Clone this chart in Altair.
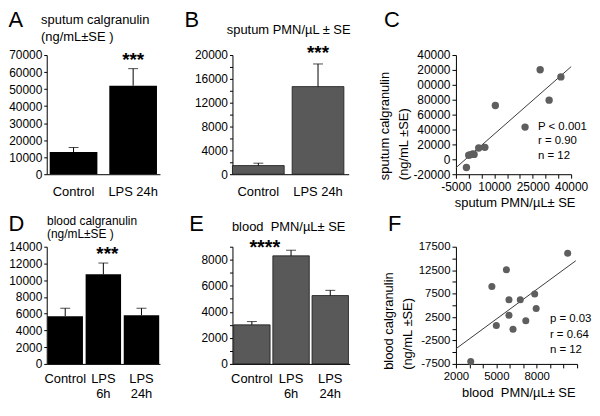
import altair as alt
import pandas as pd

FONT = "Liberation Sans"

# ---------------- data ----------------
a_cats = ["Control", "LPS 24h"]
a_vals = [13000, 52000]
a_errs = [2700, 10000]
a_sig = ["", "***"]

b_cats = ["Control", "LPS 24h"]
b_vals = [1450, 14700]
b_errs = [400, 3800]
b_sig = ["", "***"]

c_pmn = [-900, 0, 800, 1600, 2100, 3900, 6300, 10400, 22000, 27900, 31400, 36000]
c_cal = [-11000, 5500, 6300, 7300, 6600, 15200, 16100, 72300, 43300, 120300, 79400, 110600]
c_stats = ["P < 0.001", "r = 0.90", "n = 12"]

d_cats = ["Control", "LPS 6h", "LPS 24h"]
d_vals = [5700, 10700, 5800]
d_errs = [950, 1350, 850]
d_sig = ["", "***", ""]

e_cats = ["Control", "LPS 6h", "LPS 24h"]
e_vals = [3000, 8300, 5250]
e_errs = [250, 430, 400]
e_sig = ["", "", ""]

f_pmn = [3100, 4670, 5000, 5750, 5940, 5940, 6240, 6780, 7190, 7850, 7960, 10300]
f_cal = [-7000, 9000, 700, 12600, 6200, 2900, -100, 6200, 1700, 7400, 4300, 16100]
f_stats = ["p = 0.03", "r = 0.64", "n = 12"]


def txt(s, x, y, size=13, align="left", baseline="alphabetic", angle=0, weight="normal"):
    return alt.Chart(pd.DataFrame({"t": [s]})).mark_text(
        align=align, baseline=baseline, fontSize=size, angle=angle,
        fontWeight=weight, font=FONT, color="black"
    ).encode(x=alt.value(x), y=alt.value(y), text="t:N")


def bar_panel(cats, vals, errs, sig, width, height, ymax, ystep, ylabel_expr,
              fill, stroke, pi, po, align, multiline, star_dy, star_dx):
    df = pd.DataFrame({"cat": cats, "val": vals, "err": errs, "sig": sig})
    xax = dict(title=None, labelAngle=0, ticks=False, tickSize=0, labelFontSize=13)
    if multiline:
        xax.update(labelExpr="split(datum.label, ' ')", labelLineHeight=15, labelPadding=9)
    else:
        xax.update(labelPadding=11)
    x = alt.X("cat:N", sort=cats,
              scale=alt.Scale(paddingInner=pi, paddingOuter=po, align=align),
              axis=alt.Axis(**xax))
    yax = dict(values=list(range(0, ymax + 1, ystep)), format="d", title=None,
               tickSize=3, labelPadding=2, labelFontSize=12, labelOverlap=False)
    if ylabel_expr:
        yax["labelExpr"] = ylabel_expr
    yscale = alt.Scale(domain=[0, ymax], nice=False, zero=True)
    y = alt.Y("val:Q", scale=yscale, axis=alt.Axis(**yax))
    ytop = alt.Y("top:Q", scale=yscale, axis=alt.Axis(**yax))
    base = alt.Chart(df).transform_calculate(top="datum.val + datum.err")
    bar_kw = dict(fill=fill)
    if stroke:
        bar_kw.update(stroke=stroke, strokeWidth=0.8)
    bars = base.mark_bar(**bar_kw).encode(x=x, y=y)
    rule = base.mark_rule(color="black", strokeWidth=1).encode(x=x, y=y, y2="top:Q")
    cap = base.mark_tick(color="black", size=10, thickness=1, orient="horizontal").encode(x=x, y=ytop)
    stars = base.mark_text(fontSize=19, fontWeight="bold", dy=star_dy, dx=star_dx,
                           baseline="alphabetic", font=FONT, color="black").encode(
        x=x, y=ytop, text="sig:N")
    return [bars, rule, cap, stars]


def scatter_panel(xs, ys, xdom, xvals, xexpr, ydom, yvals, yexpr, extent, xfs, yfs, size):
    df = pd.DataFrame({"pmn": xs, "cal": ys})
    x = alt.X("pmn:Q", scale=alt.Scale(domain=xdom, nice=False, zero=False),
              axis=alt.Axis(values=xvals, labelExpr=xexpr, title=None, tickSize=4,
                            labelPadding=3, labelFontSize=xfs, labelFlush=False,
                            labelOverlap=False))
    y = alt.Y("cal:Q", scale=alt.Scale(domain=ydom, nice=False, zero=False),
              axis=alt.Axis(values=yvals, labelExpr=yexpr, title=None, tickSize=4,
                            labelPadding=2, labelFontSize=yfs, labelFlush=False,
                            labelOverlap=False))
    pts = alt.Chart(df).mark_circle(size=size, color="#5e5e5e", opacity=1).encode(x=x, y=y)
    line = alt.Chart(df).transform_regression("pmn", "cal", extent=extent).mark_line(
        color="#3a3a3a", strokeWidth=1).encode(x=x, y=y)
    return [line, pts]


def spacer(w, h):
    return alt.Chart(pd.DataFrame({"s": [0]})).mark_point(opacity=0).encode(
        x=alt.value(0), y=alt.value(0)).properties(width=w, height=h)


H1, H2 = 120, 118

# Panel A
A = alt.layer(
    *bar_panel(a_cats, a_vals, a_errs, a_sig, 114, H1, 70000, 10000, None,
               "black", None, 0.2, 0.05, 0.5, False, -2.5, 0),
    txt("A", -38.4, -45, size=22, baseline="top"),
    txt("sputum calgranulin", -5.7, -31.3),
    txt("(ng/mL\u00b1SE )", -5.7, -14.5),
).properties(width=114, height=H1)

# Panel B
B = alt.layer(
    *bar_panel(b_cats, b_vals, b_errs, b_sig, 117, H1, 20000, 2000,
               "datum.value % 4000 == 0 ? datum.label : ''",
               "#595959", "#1a1a1a", 0.133, 0.04, 0, False, -5, 0),
    txt("B", -48.4, -45, size=22, baseline="top"),
    txt("sputum PMN/\u00b5L \u00b1 SE", 56.6, -20.7, align="center"),
).properties(width=117, height=H1)

# Panel C
C = alt.layer(
    *scatter_panel(c_pmn, c_cal, [-5000, 40000], list(range(-5000, 40001, 5000)),
                   "(datum.value + 5000) % 15000 == 0 ? '' + datum.value : ''",
                   [-20000, 140000], list(range(-20000, 140001, 20000)),
                   "datum.value >= 100000 ? substring('' + datum.value, 1) : '' + datum.value",
                   [-5000, 40000], 12, 12, 55),
    txt("C", -72.4, -45, size=22, baseline="top"),
    txt("sputum calgranulin", -71.4, 126, baseline="middle", angle=270),
    txt("(ng/mL \u00b1SE)", -52.4, 126, baseline="middle", angle=270),
    txt("sputum PMN/\u00b5L\u00b1 SE", 59.6, 153, align="center"),
    txt(c_stats[0], 82.6, 75.3, size=11.5),
    txt(c_stats[1], 82.6, 89.7, size=11.5),
    txt(c_stats[2], 82.6, 104.3, size=11.5),
).properties(width=116, height=H1)

# Panel D
D = alt.layer(
    *bar_panel(d_cats, d_vals, d_errs, d_sig, 114, H2, 14000, 2000, None,
               "black", None, 0.07, 0.02, 0.5, True, -3, 4),
    txt("D", -38.4, -33, size=22, baseline="top"),
    txt("blood calgranulin", 0.3, -21.8, size=12),
    txt("(ng/mL\u00b1SE )", 0.3, -9, size=12),
).properties(width=114, height=H2)

# Panel E
E = alt.layer(
    *bar_panel(e_cats, e_vals, e_errs, e_sig, 118, H2, 9000, 1000,
               "datum.value % 2000 == 0 ? datum.label : ''",
               "#595959", "#1a1a1a", 0.07, 0.03, 0.5, True, 0, 0),
    txt("E", -43.4, -33, size=22, baseline="top"),
    txt("blood \u00a0PMN/\u00b5L\u00b1 SE", 56.6, -15.5, align="center"),
    txt("****", 32.6, 7, size=20, align="center", weight="bold"),
).properties(width=118, height=H2)

# Panel F
F = alt.layer(
    *scatter_panel(f_pmn, f_cal, [2000, 11000], list(range(2000, 11001, 1000)),
                   "(datum.value - 2000) % 3000 == 0 && datum.value < 11000 ? '' + datum.value : ''",
                   [-7500, 17500], list(range(-7500, 17501, 2500)),
                   "(datum.value + 7500) % 5000 == 0 ? '' + datum.value : ''",
                   [2000, 10900], 11.5, 11.5, 50),
    txt("F", -68.4, -33, size=22, baseline="top"),
    txt("blood calgranulin", -67.4, 124, baseline="middle", angle=270),
    txt("(ng/mL \u00b1SE)", -48.4, 124, baseline="middle", angle=270),
    txt("blood \u00a0PMN/\u00b5L\u00b1 SE", 63.3, 151, align="center"),
    txt(f_stats[0], 94.6, 76, size=11.5),
    txt(f_stats[1], 94.6, 91.5, size=11.5),
    txt(f_stats[2], 94.6, 107, size=11.5),
).properties(width=122, height=H2)

chart = alt.concat(
    A, spacer(63, H1), B, spacer(97, H1), C,
    D, spacer(58, H2), E, spacer(97, H2), F,
    columns=5, spacing=alt.RowColnumber(row=73, column=5), bounds="flush", align="none",
).properties(padding=0).configure(font=FONT).configure_view(stroke=None).configure_axis(
    domainColor="black", tickColor="black", labelColor="black", grid=False,
    domainWidth=1, tickWidth=1, labelFont=FONT,
)

chart.save("out.html", embed_options={"renderer": "svg", "actions": False})
